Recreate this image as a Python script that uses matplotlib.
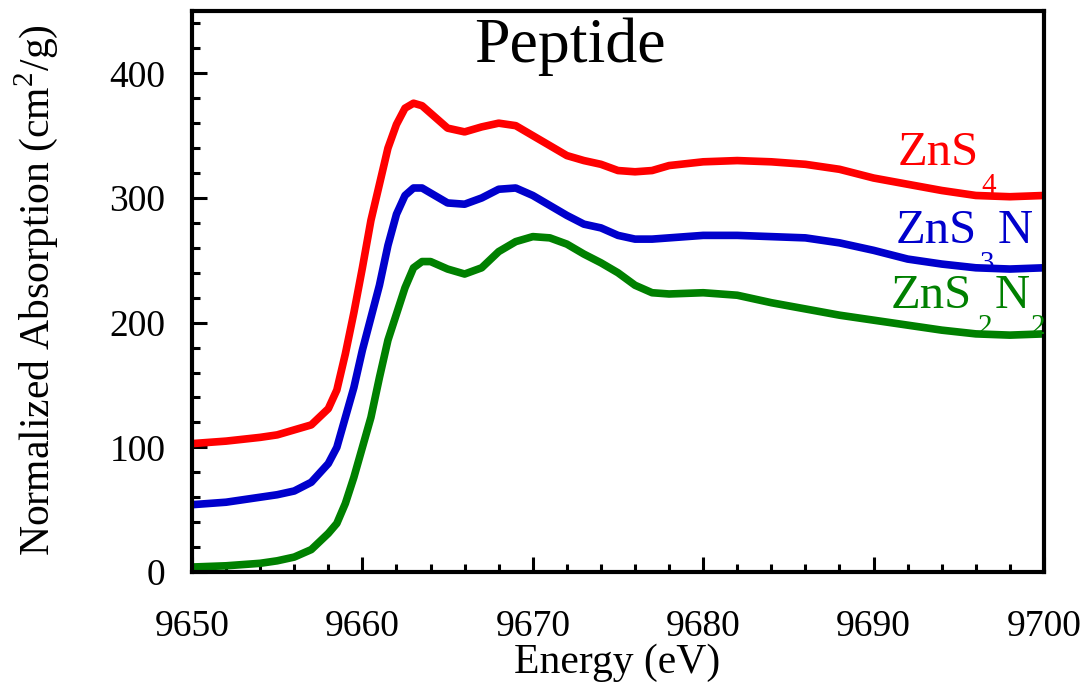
import matplotlib
matplotlib.use('Agg')
import matplotlib.pyplot as plt
from matplotlib.ticker import MultipleLocator

plt.rcParams['font.family'] = ['Liberation Serif', 'DejaVu Serif']
plt.rcParams['mathtext.fontset'] = 'custom'
plt.rcParams['mathtext.rm'] = 'Liberation Serif'

# energies (eV)
energy = [9650, 9652, 9654, 9655, 9656, 9657, 9658, 9658.5, 9659, 9659.5,
          9660, 9660.5, 9661, 9661.5, 9662, 9662.5, 9663, 9663.5, 9664, 9665,
          9666, 9667, 9668, 9669, 9670, 9671, 9672, 9673, 9674, 9675,
          9676, 9677, 9678, 9680, 9682, 9684, 9686, 9688, 9690, 9692,
          9694, 9696, 9698, 9700]

zns4 = [103, 105, 108, 110, 114, 118, 131, 146, 175, 208,
        244, 282, 311, 340, 359, 372, 376, 374, 368, 356,
        353, 357, 360, 358, 350, 342, 334, 330, 327, 322,
        321, 322, 326, 329, 330, 329, 327, 323, 316, 311,
        306, 302, 301, 302]

zns3n = [54, 56, 60, 62, 65, 72, 87, 100, 124, 148,
         178, 204, 230, 262, 287, 302, 308, 308, 304, 296,
         295, 300, 307, 308, 302, 294, 286, 279, 276, 270,
         267, 267, 268, 270, 270, 269, 268, 264, 258, 251,
         247, 244, 243, 244]

zns2n2 = [4, 5, 7, 9, 12, 18, 31, 39, 55, 76,
          100, 124, 156, 186, 207, 228, 244, 249, 249, 243,
          239, 244, 257, 265, 269, 268, 263, 255, 248, 240,
          230, 224, 223, 224, 222, 216, 211, 206, 202, 198,
          194, 191, 190, 191]

fig = plt.figure(figsize=(10.86, 6.84), dpi=100)
ax = fig.add_axes([0.1768, 0.1637, 0.7845, 0.8203])

lw = 5.5
for vals, col in [(zns4, '#ff0000'), (zns3n, '#0000cc'), (zns2n2, '#008000')]:
    ax.plot(energy, vals, color=col, lw=lw, solid_capstyle='butt',
            solid_joinstyle='round')

ax.set_xlim(9650, 9700)
ax.set_ylim(0, 450)
ax.xaxis.set_major_locator(MultipleLocator(10))
ax.xaxis.set_minor_locator(MultipleLocator(2))
ax.yaxis.set_major_locator(MultipleLocator(100))
ax.yaxis.set_minor_locator(MultipleLocator(20))

for s in ax.spines.values():
    s.set_linewidth(3)
ax.tick_params(which='both', direction='in', top=False, right=False, width=2.2)
ax.tick_params(which='major', length=11, labelsize=27)
ax.tick_params(which='minor', length=6)
ax.tick_params(axis='x', pad=27)
ax.tick_params(axis='y', pad=19)

ax.set_xlabel('Energy (eV)', fontsize=30)
ax.set_ylabel('Normalized Absorption (cm$^2$/g)', fontsize=30)
ax.xaxis.set_label_coords(0.499, -0.128)
ax.yaxis.set_label_coords(-0.155, 0.503)

ax.text(0.444, 0.909, 'Peptide', transform=ax.transAxes, fontsize=46,
        ha='center', va='baseline')

# curve labels, pieces placed with their subscripts
big, small = 35, 21
ax.text(9691.4, 326.5, 'ZnS', color='#ff0000', fontsize=big, va='baseline')
ax.text(9696.3, 304, '4', color='#ff0000', fontsize=small, va='baseline')

ax.text(9691.3, 264, 'ZnS', color='#0000cc', fontsize=big, va='baseline')
ax.text(9696.2, 241.5, '3', color='#0000cc', fontsize=small, va='baseline')
ax.text(9697.3, 264, 'N', color='#0000cc', fontsize=big, va='baseline')

ax.text(9691.0, 212, 'ZnS', color='#008000', fontsize=big, va='baseline')
ax.text(9696.1, 191, '2', color='#008000', fontsize=small, va='baseline')
ax.text(9697.1, 212, 'N', color='#008000', fontsize=big, va='baseline')
ax.text(9699.2, 191, '2', color='#008000', fontsize=small, va='baseline')

fig.savefig('out.png', dpi=100)
